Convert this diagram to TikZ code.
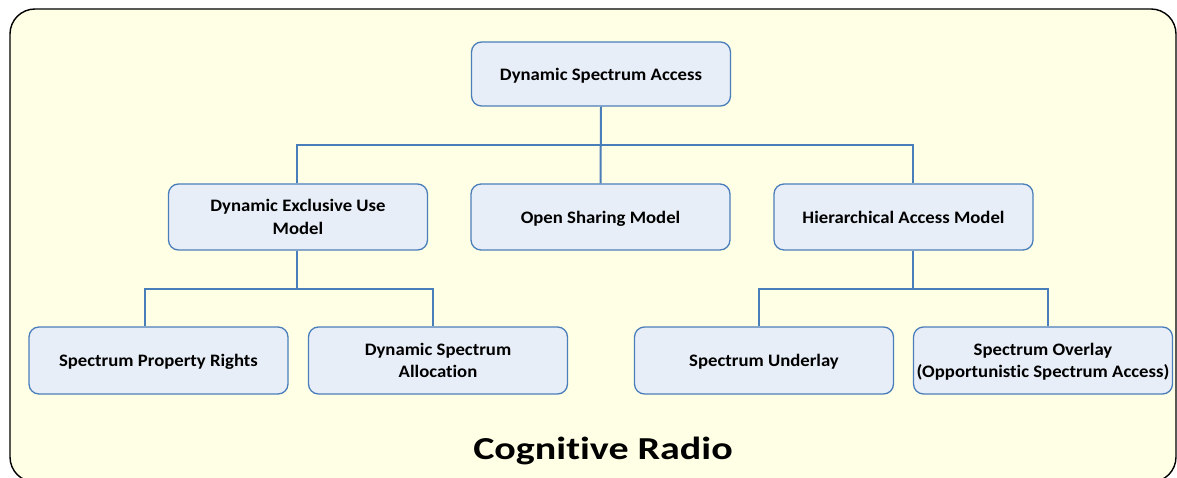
\documentclass[tikz,border=0pt]{standalone}
\usepackage{fontspec}
\setmainfont[Ligatures=NoCommon]{Carlito}
\newfontfamily\boxfont[Ligatures=NoCommon, FakeStretch=1.07]{Carlito}
\newfontfamily\titlefont[Ligatures=NoCommon, FakeStretch=1.25]{Carlito}
\definecolor{bgfill}{HTML}{FFFFE5}
\definecolor{boxfill}{HTML}{E8EEF7}
\definecolor{boxline}{HTML}{4A7EBB}
\begin{document}
\begin{tikzpicture}[x=1pt,y=-1pt,
  box/.style={draw=boxline, fill=boxfill, line width=1.3pt, rounded corners=10pt,
    minimum width=259pt, minimum height=66pt, align=center, inner sep=2pt,
    text depth=0pt, font=\boxfont\bfseries\fontsize{17.5}{22.3}\selectfont},
  link/.style={draw=boxline, line width=2pt}]
\useasboundingbox (0,0) rectangle (1177,478);
% outer frame
\draw[line width=1.4pt, fill=bgfill, rounded corners=25pt] (10,9) rectangle (1176,482);

% top level
\node[box, minimum height=64pt] (dsa) at (601,74) {Dynamic Spectrum Access};
% second level
\node[box] (deum) at (298,217) {Dynamic Exclusive Use\\Model};
\node[box] (osm)  at (600.5,217) {Open Sharing Model};
\node[box] (ham)  at (903.5,217) {Hierarchical Access Model};
% third level
\node[box, minimum height=67pt] (spr)  at (158.5,360.5) {Spectrum Property Rights};
\node[box, minimum height=67pt] (dsal) at (438,360.5) {Dynamic Spectrum\\Allocation};
\node[box, minimum height=67pt] (sul)  at (764,360.5) {Spectrum Underlay};
\node[box, minimum height=67pt] (sol)  at (1043,360.5) {Spectrum Overlay\\(Opportunistic Spectrum Access)};

% bus junctions
\coordinate (b1l) at (297,145);
\coordinate (b1r) at (913,145);
\coordinate (b2l) at (145,289);
\coordinate (b2r) at (433,289);
\coordinate (b3l) at (759,289);
\coordinate (b3r) at (1048,289);

% connectors
\draw[link] (dsa.south) -- (osm.north);
\draw[link] (b1l |- deum.north) -- (b1l) -- (b1r) -- (b1r |- ham.north);
\draw[link] (b1l |- deum.south) -- (b1l |- b2l);
\draw[link] (b2l |- spr.north) -- (b2l) -- (b2r) -- (b2r |- dsal.north);
\draw[link] (b1r |- ham.south) -- (b1r |- b3l);
\draw[link] (b3l |- sul.north) -- (b3l) -- (b3r) -- (b3r |- sol.north);

% caption
\node[anchor=base, font=\titlefont\bfseries\fontsize{32}{38}\selectfont] (title) at (603,459) {Cognitive Radio};
\end{tikzpicture}
\end{document}
